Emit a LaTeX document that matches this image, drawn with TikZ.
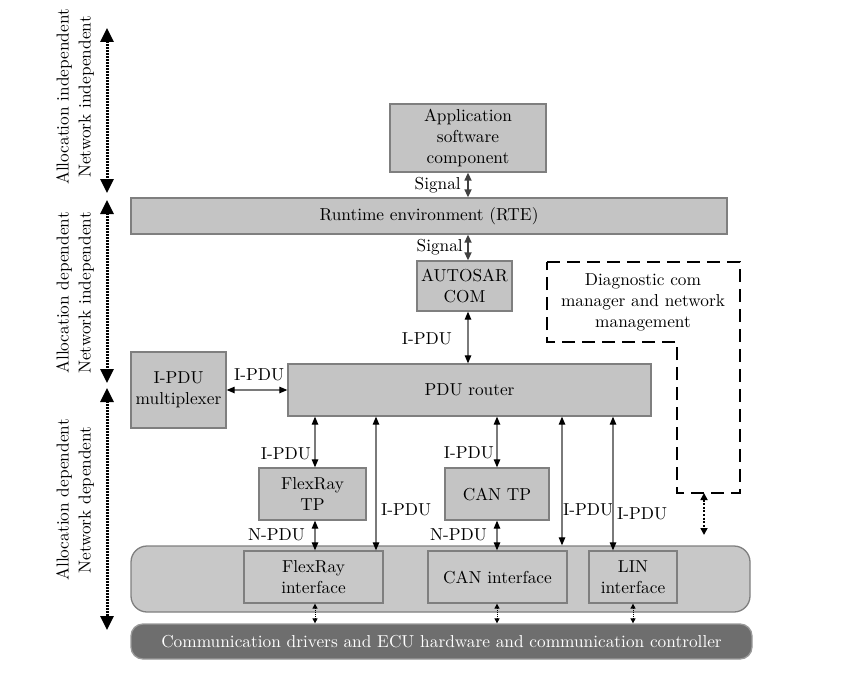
\documentclass[tikz,border=0pt]{standalone}
\usepackage{fontspec}
\setmainfont{lmroman10-regular.otf}
\usetikzlibrary{arrows.meta,calc}
\definecolor{boxfill}{HTML}{C4C4C4}
\definecolor{boxline}{HTML}{7F7F7F}
\definecolor{contfill}{HTML}{C8C8C8}
\definecolor{hwfill}{HTML}{6E6E6E}
\definecolor{hwline}{HTML}{9A9A9A}
\definecolor{connline}{HTML}{7A7A7A}
\begin{document}
\begin{tikzpicture}[x=1pt,y=-1pt,
  every node/.style={font=\fontsize{17.3}{21}\selectfont, inner sep=0pt},
  box/.style={draw=boxline, fill=boxfill, line width=1.3pt, align=center, anchor=center},
  ifbox/.style={draw=boxline, fill=contfill, line width=1.3pt, align=center, anchor=center},
  conn/.style={draw=connline, line width=1.2pt, {Triangle[length=8pt,width=6.5pt,color=black]}-{Triangle[length=8pt,width=6.5pt,color=black]}},
  sig/.style={draw=black!75, line width=1.6pt, {Triangle[length=8pt,width=7pt]}-{Triangle[length=8pt,width=7pt]}},
  small/.style={draw=black, line width=1pt, dash pattern=on 1pt off 1pt, {Triangle[length=5pt,width=5pt]}-{Triangle[length=5pt,width=5pt]}},
  side/.style={draw=black, line width=3pt, dash pattern=on 1.6pt off 1.4pt, {Triangle[length=14pt,width=13pt]}-{Triangle[length=14pt,width=13pt]}},
  lbl/.style={text=black}
]
\useasboundingbox (0,0) rectangle (848,674);

% left side labels
\node[rotate=90, align=center, font=\fontsize{17.3}{22}\selectfont] (t1) at (75,97) {Allocation independent\\Network independent};
\node[rotate=90, align=center, font=\fontsize{17.3}{22}\selectfont] (t2) at (75,293) {Allocation dependent\\Network independent};
\node[rotate=90, align=center, font=\fontsize{17.3}{22}\selectfont] (t3) at (75,500) {Allocation dependent\\Network dependent};
\coordinate (s1a) at (107,28); \coordinate (s1b) at (107,193);
\coordinate (s2a) at (107,200); \coordinate (s2b) at (107,383);
\coordinate (s3a) at (107,388); \coordinate (s3b) at (107,630);
\draw[side] (s1a) -- (s1b);
\draw[side] (s2a) -- (s2b);
\draw[side] (s3a) -- (s3b);

% boxes
\node[box, minimum width=156pt, minimum height=68pt] (app) at (468,138) {Application\\software\\component};
\node[box, minimum width=596pt, minimum height=36pt] (rte) at (429,216) {Runtime environment (RTE)};
\node[box, minimum width=95pt, minimum height=50pt] (com) at (464.5,286) {AUTOSAR\\COM};
\node[box, minimum width=95pt, minimum height=76pt] (mux) at (178.5,390) {I-PDU\\multiplexer};
\node[box, minimum width=363pt, minimum height=52pt] (router) at (469.5,390) {PDU router};
\node[box, minimum width=107pt, minimum height=52pt] (frtp) at (312.5,494) {FlexRay\\TP};
\node[box, minimum width=104pt, minimum height=52pt] (cantp) at (497,494) {CAN TP};

% container
\node[draw=boxline, fill=contfill, line width=1.3pt, rounded corners=16pt, minimum width=619pt, minimum height=66pt] (cont) at (440.5,579) {};
\node[ifbox, minimum width=139pt, minimum height=52pt] (frif) at (313.5,577) {FlexRay\\interface};
\node[ifbox, minimum width=139pt, minimum height=52pt] (canif) at (497.5,577) {CAN interface};
\node[ifbox, minimum width=88pt, minimum height=52pt] (linif) at (633,577) {LIN\\interface};

% hardware
\node[draw=hwline, fill=hwfill, line width=1.3pt, rounded corners=12pt, minimum width=621pt, minimum height=35pt, text=white] (hw) at (441.5,641.5) {Communication drivers and ECU hardware and communication controller};

% diagnostic dashed
\node[align=center] (diag) at (643,302) {Diagnostic com\\manager and network\\management};
\draw[black, line width=2.6pt, dash pattern=on 13pt off 7pt] (547,262) -- (740,262) -- (740,493) -- (677,493) -- (677,342) -- (547,342) -- cycle;
\coordinate (dga) at (704,493);
\coordinate (dgb) at (704,535);
\draw[black, line width=1.6pt, dash pattern=on 2pt off 1.6pt, {Triangle[length=7pt,width=7pt]}-{Triangle[length=7pt,width=7pt]}] (dga) -- (dgb);

% signal connectors
\draw[sig] (app.south) -- (rte.north -| app.south);
\node[lbl, anchor=east] at (461,185) {Signal};
\coordinate (comx) at (468,0);
\draw[sig] (rte.south -| comx) -- (com.north -| comx);
\node[lbl, anchor=east] at (463,247) {Signal};
\draw[conn] (com.south -| comx) -- (router.north -| comx);
\node[lbl, anchor=east] at (452,339) {I-PDU};

% mux
\draw[conn] (mux.east) -- (router.west);
\node[lbl] at (259,375) {I-PDU};

% router down
\coordinate (x315) at (315,0);
\coordinate (x376) at (376,0);
\coordinate (x562) at (562,0);
\coordinate (x613) at (613,0);
\draw[conn] (router.south -| x315) -- (frtp.north -| x315);
\node[lbl, anchor=east] at (311,454) {I-PDU};
\draw[conn] (frtp.south -| x315) -- (frif.north -| x315);
\node[lbl, anchor=east] at (305,535) {N-PDU};
\draw[conn] (router.south -| x376) -- (frif.north -| x376);
\node[lbl, anchor=west] at (381,510) {I-PDU};
\draw[conn] (router.south -| cantp.north) -- (cantp.north);
\node[lbl, anchor=east] at (494,453) {I-PDU};
\draw[conn] (cantp.south) -- (canif.north -| cantp.south);
\node[lbl, anchor=east] at (487,535) {N-PDU};
\draw[conn] (router.south -| x562) -- (cont.north -| x562);
\node[lbl, anchor=west] at (563,510) {I-PDU};
\draw[conn] (router.south -| x613) -- (linif.north -| x613);
\node[lbl, anchor=west] at (617,514) {I-PDU};

% interfaces to hardware
\draw[small] (frif.south -| x315) -- (hw.north -| x315);
\draw[small] (canif.south -| cantp.south) -- (hw.north -| cantp.south);
\draw[small] (linif.south) -- (hw.north -| linif.south);
\end{tikzpicture}
\end{document}
